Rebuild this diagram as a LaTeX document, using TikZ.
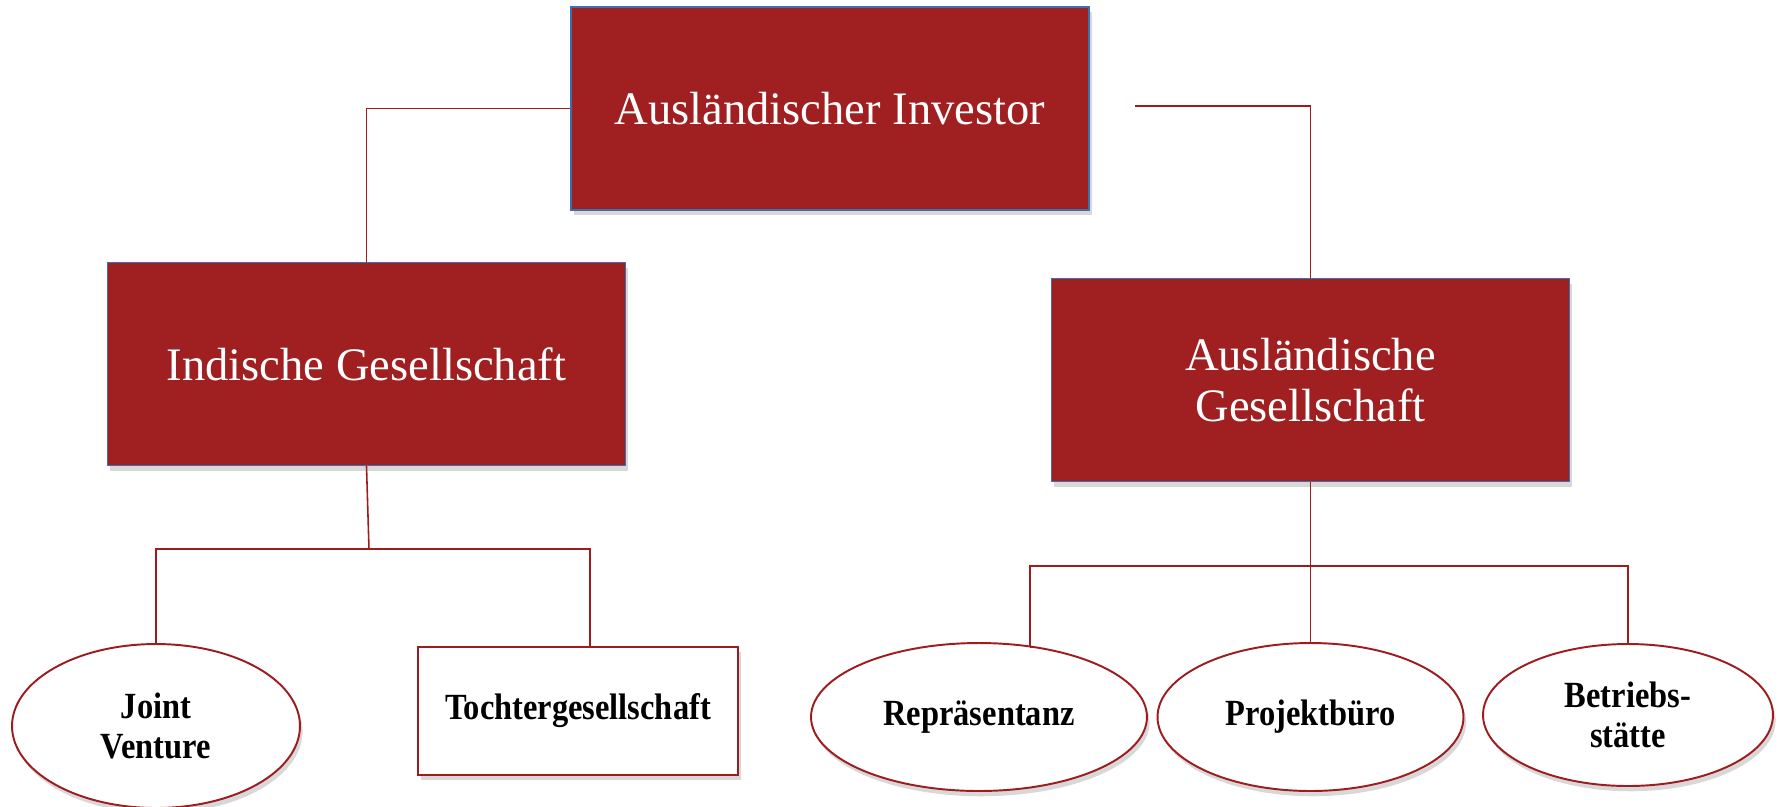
\documentclass[tikz,border=0pt]{standalone}
\usepackage{fontspec}
\setmainfont{Liberation Serif}
\newfontfamily\condfont[FakeStretch=0.88]{Liberation Serif}
\usetikzlibrary{shadows,shapes.geometric,calc}
\definecolor{boxred}{HTML}{A01F21}
\definecolor{linered}{HTML}{9E1B1E}
\definecolor{boxblue}{HTML}{3B6FB0}
\begin{document}
\begin{tikzpicture}[x=0.02cm,y=-0.02cm,
  bigbox/.style={draw=boxblue, line width=0.8pt, fill=boxred, text=white,
    minimum width=10.36cm, minimum height=4.06cm, inner sep=0pt, align=center,
    font=\fontsize{26.5}{29}\selectfont,
    drop shadow={opacity=0.3, shadow xshift=1.5pt, shadow yshift=-3pt}},
  leaf/.style={draw=linered, line width=1.1pt, fill=white, text=black, inner sep=0pt,
    align=center, font=\condfont\bfseries\fontsize{21}{22.5}\selectfont,
    drop shadow={opacity=0.3, shadow xshift=1.5pt, shadow yshift=-3pt}},
  leafell/.style={leaf, ellipse},
  conn/.style={draw=linered, line width=0.9pt},
  bus/.style={draw=linered, line width=1.6pt}]
\useasboundingbox (0,0) rectangle (1779,806);
\fill[white] (0,0) rectangle (1779,806);

\node[bigbox] (inv) at (830,108.5) {Ausländischer Investor};
\node[bigbox] (ind) at (366.5,364) {Indische Gesellschaft};
\node[bigbox] (aus) at (1310.5,380) {Ausländische\\Gesellschaft};

\node[leafell, minimum width=5.76cm, minimum height=3.28cm] (jv) at (156,726) {Joint\\Venture};
\node[leaf, minimum width=6.4cm, minimum height=2.56cm] (toch) at (578,711) {Tochtergesellschaft};
\node[leafell, minimum width=6.72cm, minimum height=2.96cm] (rep) at (979,717) {Repräsentanz};
\node[leafell, minimum width=6.12cm, minimum height=2.96cm] (proj) at (1310.5,717) {Projektbüro};
\node[leafell, minimum width=5.8cm, minimum height=2.84cm] (betr) at (1628,715) {Betriebs-\\stätte};

\coordinate (invR) at (1135,106);
\coordinate (indJ) at (369,549);
\coordinate (ausJ) at (1310.5,566);
\coordinate (repT) at (1030,647);

\draw[conn] (inv.west) -| (ind.north);
\draw[conn] (invR) -| (aus.north);
\draw[conn] (ind.south) -- (indJ);
\draw[conn, line width=1.2pt] (jv.north) |- (indJ) -| ($(toch.north)+(12,0)$);
\draw[conn] (aus.south) -- (proj.north);
\draw[bus] (repT) |- (ausJ) -| (betr.north);
\draw[conn] (repT) -- ++(5,0);
\end{tikzpicture}
\end{document}
